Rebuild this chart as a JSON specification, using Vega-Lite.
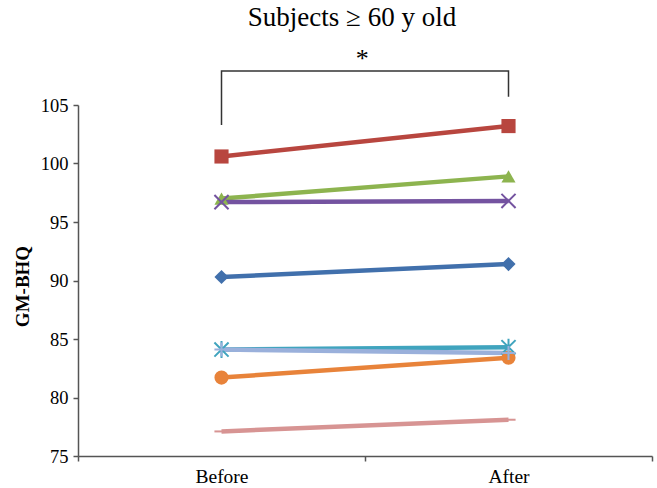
{
  "$schema": "https://vega.github.io/schema/vega-lite/v6.json",
  "width": 574,
  "height": 351,
  "autosize": "none",
  "padding": {"left": 78, "top": 105, "right": 5, "bottom": 32},
  "background": "white",
  "title": {"text": "Subjects ≥ 60 y old", "font": "Liberation Serif", "fontSize": 27, "fontWeight": "normal", "color": "#000000", "offset": 14, "dx": -13, "anchor": "middle", "frame": "group"},
  "config": {"view": {"stroke": null}, "axis": {"grid": false, "domainColor": "#555555", "tickColor": "#555555", "domainWidth": 1.5, "tickWidth": 1.5}},
  "datasets": {
    "scores": [
      {"subject": "1", "time": "Before", "value": 90.3}, {"subject": "1", "time": "After", "value": 91.4},
      {"subject": "2", "time": "Before", "value": 100.6}, {"subject": "2", "time": "After", "value": 103.2},
      {"subject": "3", "time": "Before", "value": 97.0}, {"subject": "3", "time": "After", "value": 98.9},
      {"subject": "4", "time": "Before", "value": 96.7}, {"subject": "4", "time": "After", "value": 96.8},
      {"subject": "5", "time": "Before", "value": 84.1}, {"subject": "5", "time": "After", "value": 84.3},
      {"subject": "6", "time": "Before", "value": 81.7}, {"subject": "6", "time": "After", "value": 83.4},
      {"subject": "7", "time": "Before", "value": 84.1}, {"subject": "7", "time": "After", "value": 83.8},
      {"subject": "8", "time": "Before", "value": 77.1}, {"subject": "8", "time": "After", "value": 78.1}
    ],
    "bracket": [
      {"time": "Before", "value": 103.3, "k": 1},
      {"time": "Before", "value": 107.9, "k": 2},
      {"time": "After", "value": 107.9, "k": 3},
      {"time": "After", "value": 105.7, "k": 4}
    ],
    "star": [{"time": "Before", "value": 108.95, "label": "*"}]
  },
  "encoding": {
    "x": {"field": "time", "type": "nominal", "sort": ["Before", "After"],
      "scale": {"domain": ["Before", "After"], "paddingInner": 0, "paddingOuter": 0},
      "axis": {"title": null, "labelAngle": 0, "labelFont": "Liberation Serif", "labelFontSize": 19.5, "labelColor": "#000000", "tickBand": "extent", "tickSize": 5, "labelPadding": 6}},
    "y": {"field": "value", "type": "quantitative",
      "scale": {"domain": [75, 105], "nice": false, "zero": false},
      "axis": {"title": "GM-BHQ", "titleFont": "Liberation Serif", "titleFontSize": 19, "titleFontWeight": "bold", "titleColor": "#000000", "titleY": 181, "titleAnchor": null, "titleAlign": "center", "titlePadding": 8, "values": [75, 80, 85, 90, 95, 100, 105], "labelFont": "Liberation Serif", "labelFontSize": 18.5, "labelColor": "#000000", "tickSize": 5, "labelPadding": 5}}
  },
  "layer": [
    {
      "data": {"name": "bracket"},
      "mark": {"type": "line", "color": "#333333", "strokeWidth": 1.5, "clip": false},
      "encoding": {"order": {"field": "k", "type": "quantitative"}}
    },
    {
      "data": {"name": "star"},
      "mark": {"type": "text", "font": "Liberation Serif", "fontSize": 26, "color": "#000000", "baseline": "middle", "clip": false},
      "encoding": {"x": {"field": "time", "type": "nominal", "bandPosition": 0.99}, "text": {"field": "label"}}
    },
    {
      "data": {"name": "scores"},
      "mark": {"type": "line", "strokeWidth": 4.5},
      "encoding": {
        "detail": {"field": "subject"},
        "color": {"field": "subject", "type": "nominal", "legend": null,
          "scale": {"domain": ["1", "2", "3", "4", "5", "6", "7", "8"], "range": ["#4170AC", "#B8463F", "#8DB44F", "#7453A0", "#40A4BE", "#E8833A", "#9AB0DB", "#D79493"]}}
      }
    },
    {
      "data": {"name": "scores"},
      "transform": [{"filter": {"field": "subject", "oneOf": ["1", "2", "3", "6"]}}],
      "mark": {"type": "point", "filled": true, "opacity": 1, "size": 200},
      "encoding": {
        "color": {"field": "subject", "type": "nominal", "legend": null},
        "shape": {"field": "subject", "type": "nominal", "legend": null,
          "scale": {"domain": ["1", "2", "3", "4", "5", "6", "7", "8"], "range": ["diamond", "square", "triangle-up", "M-1,-1L1,1M-1,1L1,-1", "M-1,-1L1,1M-1,1L1,-1M0,-1.2L0,1.2", "circle", "M-1,0L1,0M0,-1L0,1", "M-1,0L1,0"]}}
      }
    },
    {
      "data": {"name": "scores"},
      "transform": [{"filter": {"field": "subject", "oneOf": ["4", "5", "7", "8"]}}],
      "mark": {"type": "point", "filled": false, "opacity": 1, "size": 200, "strokeWidth": 2},
      "encoding": {
        "color": {"field": "subject", "type": "nominal", "legend": null},
        "shape": {"field": "subject", "type": "nominal", "legend": null}
      }
    }
  ]
}
